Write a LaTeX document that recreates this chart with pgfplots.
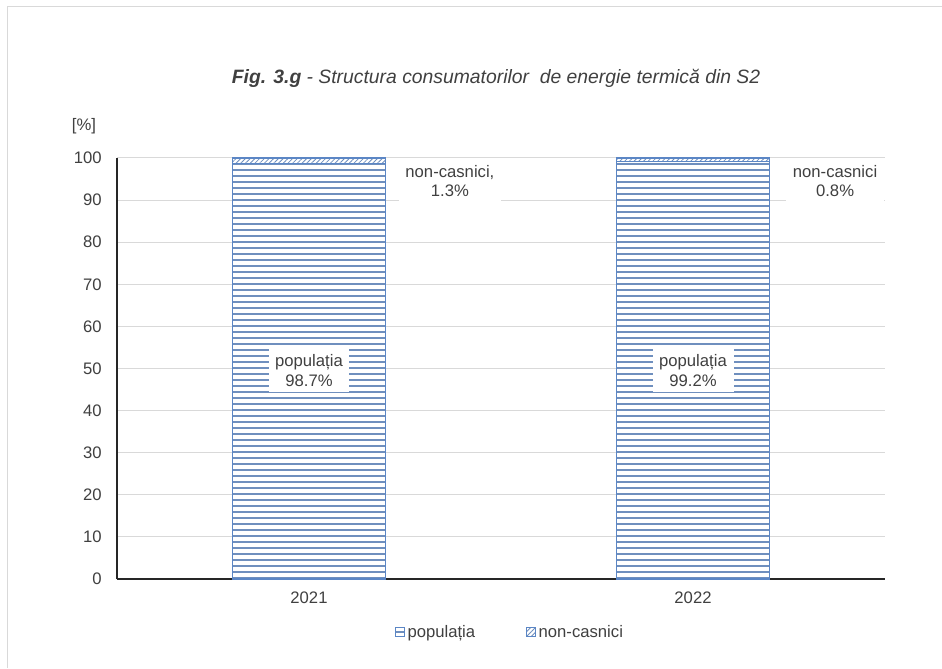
\documentclass[border=0pt]{standalone}
\usepackage{pgfplots}
\pgfplotsset{compat=1.18}
\usetikzlibrary{patterns.meta}
\usepackage{fontspec}
\setmainfont{Liberation Sans}
\definecolor{txt}{HTML}{404040}
\definecolor{bblue}{HTML}{5B86C5}
\definecolor{pblue}{HTML}{6F8FBE}
\definecolor{gridc}{HTML}{D9D9D9}
\begin{document}
\begin{tikzpicture}
\useasboundingbox (0,0) rectangle (706.5pt,501pt);
\fill[white] (0,0) rectangle (706.5pt,501pt);
\draw[gridc, line width=0.75pt] (5.25pt,0) -- (5.25pt,495.75pt) -- (706.5pt,495.75pt);
\node[font=\fontsize{14.5}{17}\selectfont\itshape, text=txt] at (372pt,442.5pt) {\textbf{Fig. 3.g} - Structura consumatorilor\ \ de energie termică din S2};
\node[font=\fontsize{12.5}{14}\selectfont, text=txt] at (63pt,406.5pt) {[\%]};
\begin{axis}[
  at={(87.75pt,66.75pt)}, anchor=south west,
  scale only axis, width=576pt, height=315.75pt,
  xmin=-0.5, xmax=1.5, ymin=0, ymax=100,
  xtick={0,1}, xticklabels={2021,2022},
  ytick={0,10,...,100},
  ybar stacked, bar width=114.75pt,
  axis x line*=bottom, axis y line*=left,
  axis line style={black!85, line width=1.1pt, -},
  major tick length=0pt,
  ymajorgrids, grid style={gridc, line width=0.75pt},
  tick label style={font=\fontsize{12.5}{14}\selectfont, text=txt},
  /pgf/number format/assume math mode=true,
  yticklabel style={xshift=-8pt},
  xticklabel style={yshift=-6pt},
  area legend,
  legend image code/.code={\draw[#1, line width=0.8pt] (0pt,-3.4pt) rectangle (6.8pt,3.4pt);},
  legend style={draw=none, fill=none, at={(0.512,-0.126)}, anchor=center,
    legend columns=2, font=\fontsize{12.5}{14}\selectfont, text=txt,
    /tikz/every even column/.append style={column sep=36pt},
    legend cell align=left},
]
\addplot[draw=bblue, line width=1pt, fill=white,
  postaction={pattern={Lines[angle=0,distance=4.5pt,line width=0.9pt]}, pattern color=pblue}]
  coordinates {(0,98.7) (1,99.2)};
\addplot[draw=bblue, line width=1pt, fill=white,
  postaction={pattern={Lines[angle=45,distance=2.5pt,line width=0.6pt]}, pattern color=pblue}]
  coordinates {(0,1.3) (1,0.8)};
\legend{populația, non-casnici}
\coordinate (P1) at (axis cs:0,49.5);
\coordinate (P2) at (axis cs:1,49.5);
\coordinate (N1) at (axis cs:0.367,94.5);
\coordinate (N2) at (axis cs:1.37,94.5);
\end{axis}
\tikzset{lab/.style={fill=white, align=center, font=\fontsize{12.5}{14.5}\selectfont, text=txt}}
\node[lab, inner xsep=5pt, inner ysep=4pt] at (P1) {populația\\98.7\%};
\node[lab, inner xsep=5pt, inner ysep=4pt] at (P2) {populația\\99.2\%};
\node[lab, inner xsep=5pt, inner ysep=5pt] at (N1) {non-casnici,\\1.3\%};
\node[lab, inner xsep=5pt, inner ysep=5pt] at (N2) {non-casnici\\0.8\%};
\end{tikzpicture}
\end{document}
